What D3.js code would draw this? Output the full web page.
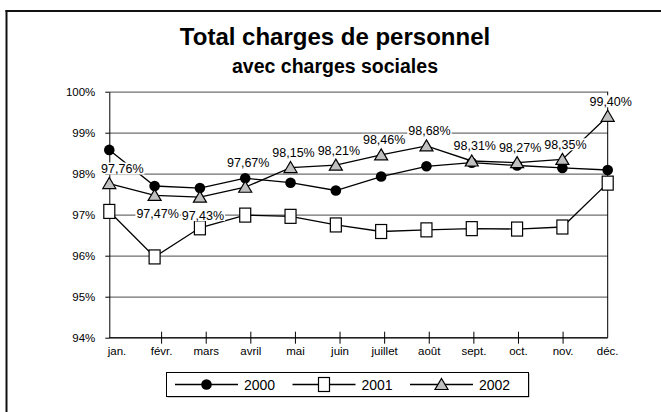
<!DOCTYPE html>
<html>
<head>
<meta charset="utf-8">
<script src="https://cdn.jsdelivr.net/npm/d3@7"></script>
<style>
  body { margin: 0; background: #fff; }
  svg { display: block; font-family: "Liberation Sans", Arial, Helvetica, sans-serif; }
</style>
</head>
<body>
<div id="chart"></div>
<script>
// ── Data ──
const months = ['jan.', 'févr.', 'mars', 'avril', 'mai', 'juin', 'juillet', 'août', 'sept.', 'oct.', 'nov.', 'déc.'];
const v2000 = [98.58, 97.70, 97.65, 97.89, 97.78, 97.59, 97.93, 98.18, 98.27, 98.20, 98.14, 98.09];
const v2001 = [97.08, 95.97, 96.68, 96.99, 96.96, 96.75, 96.59, 96.63, 96.66, 96.65, 96.70, 97.77];
const v2002 = [97.76, 97.47, 97.43, 97.67, 98.15, 98.21, 98.46, 98.68, 98.31, 98.27, 98.35, 99.40];
const yTicks = [94, 95, 96, 97, 98, 99, 100];
const seriesNames = ['2000', '2001', '2002'];

const W = 661, H = 412;
const margin = { top: 91.7, right: 53.3, bottom: 74.3, left: 109.3 };
const width  = W - margin.left - margin.right;
const height = H - margin.top - margin.bottom;

const root = d3.select('#chart').append('svg')
  .attr('width', W).attr('height', H);

// Frame (top + left edges only)
root.append('line').attr('x1', 5.5).attr('x2', W).attr('y1', 11).attr('y2', 11)
  .attr('stroke', '#111').attr('stroke-width', 2);
root.append('line').attr('x1', 6.5).attr('x2', 6.5).attr('y1', 10).attr('y2', H)
  .attr('stroke', '#111').attr('stroke-width', 2);

// Titles
root.append('text').attr('x', 335).attr('y', 44.5).attr('text-anchor', 'middle')
  .style('font-size', '24px').style('font-weight', 'bold').text('Total charges de personnel');
root.append('text').attr('x', 335).attr('y', 73).attr('text-anchor', 'middle')
  .style('font-size', '19.5px').style('font-weight', 'bold').text('avec charges sociales');

const svg = root.append('g').attr('transform', `translate(${margin.left},${margin.top})`);

const x  = d3.scalePoint().domain(months).range([0, width]);
const xa = d3.scalePoint().domain(months).range([7.7, width]);   // axis labels sit a bit off the points
const y  = d3.scaleLinear().domain([94, 100]).range([height, 0]);

// Grid
svg.append('g').attr('class', 'grid')
  .call(d3.axisLeft(y).tickValues(yTicks).tickSize(-width).tickFormat(''))
  .call(g => g.select('.domain').remove())
  .selectAll('line').attr('stroke', '#6e6e6e').attr('stroke-width', 1.2);

// Y axis
svg.append('g')
  .call(d3.axisLeft(y).tickValues(yTicks).tickSize(4).tickSizeOuter(0).tickFormat(d => d + '%'))
  .call(g => g.select('.domain').attr('stroke', '#000'))
  .call(g => g.selectAll('line').attr('stroke', '#000'))
  .selectAll('text').attr('fill', '#000').attr('x', -14)
  .style('font-size', '11.5px').style('font-family', '"Liberation Sans", Arial, sans-serif');

// Right edge
svg.append('line').attr('x1', width).attr('x2', width).attr('y1', 0).attr('y2', height)
  .attr('stroke', '#000');

// X axis
svg.append('line').attr('x1', 0).attr('x2', width).attr('y1', height).attr('y2', height)
  .attr('stroke', '#000');
svg.selectAll('.xtick').data(months.slice(1, -1)).enter().append('line')
  .attr('x1', d => xa(d)).attr('x2', d => xa(d))
  .attr('y1', height - 6).attr('y2', height + 6).attr('stroke', '#000');
svg.selectAll('.xlab').data(months).enter().append('text')
  .attr('x', d => xa(d)).attr('y', height + 17.5)
  .attr('text-anchor', 'middle').style('font-size', '11.5px').text(d => d);

// Series
const lineGen = d3.line().x((d, i) => x(months[i])).y(d => y(d));

function drawMarker(g, type, cx, cy) {
  if (type === 'circle') {
    g.append('circle').attr('cx', cx).attr('cy', cy).attr('r', 5.3).attr('fill', '#000');
  } else if (type === 'square') {
    g.append('rect').attr('x', cx - 5.5).attr('y', cy - 7).attr('width', 11).attr('height', 14)
      .attr('fill', '#fff').attr('stroke', '#000').attr('stroke-width', 1.2);
  } else {
    g.append('path').attr('d', `M${cx},${cy - 6} L${cx + 6.5},${cy + 5} L${cx - 6.5},${cy + 5} Z`)
      .attr('fill', '#c0c0c0').attr('stroke', '#000').attr('stroke-width', 1.2);
  }
}

const series = [
  { name: seriesNames[0], values: v2000, marker: 'circle' },
  { name: seriesNames[1], values: v2001, marker: 'square' },
  { name: seriesNames[2], values: v2002, marker: 'triangle' }
];

series.forEach(s => {
  svg.append('path').datum(s.values)
    .attr('fill', 'none').attr('stroke', '#000').attr('stroke-width', 1.3).attr('d', lineGen);
  const mg = svg.append('g');
  s.values.forEach((v, i) => drawMarker(mg, s.marker, x(months[i]), y(v)));
});

// Data labels for 2002 (white boxes, like Excel)
const labelBelow = new Set(['févr.', 'mars']);
const labelHigh  = new Set(['avril']);
const lg = svg.append('g');
v2002.forEach((v, i) => {
  const m = months[i];
  const dx = i === 0 ? 13 : 3;
  const cy = labelBelow.has(m) ? y(v) + 18 : y(v) - (labelHigh.has(m) ? 25 : 15);
  const t = lg.append('text')
    .attr('x', x(m) + dx).attr('y', cy + 4.5)
    .attr('text-anchor', 'middle').style('font-size', '12.5px')
    .text(v.toFixed(2).replace('.', ',') + '%');
  const b = t.node().getBBox();
  lg.insert('rect', () => t.node())
    .attr('x', b.x - 1).attr('y', cy - 6).attr('width', b.width + 2).attr('height', 12)
    .attr('fill', '#fff');
});

// Legend
const legend = root.append('g').attr('transform', 'translate(166,372)');
legend.append('rect').attr('x', 1.5).attr('y', 1.5).attr('width', 362).attr('height', 24)
  .attr('fill', '#999');
legend.append('rect').attr('x', 0.5).attr('y', 0.5).attr('width', 362).attr('height', 24)
  .attr('fill', '#fff').attr('stroke', '#000');
series.forEach((s, i) => {
  const g = legend.append('g').attr('transform', `translate(${9 + i * 117.5},12.5)`);
  g.append('line').attr('x1', 0).attr('x2', 63).attr('y1', 0).attr('y2', 0)
    .attr('stroke', '#000').attr('stroke-width', 1.3);
  drawMarker(g, s.marker, 31.5, 0);
  g.append('text').attr('x', 69).attr('y', 5).style('font-size', '14px').text(s.name);
});
</script>
</body>
</html>
